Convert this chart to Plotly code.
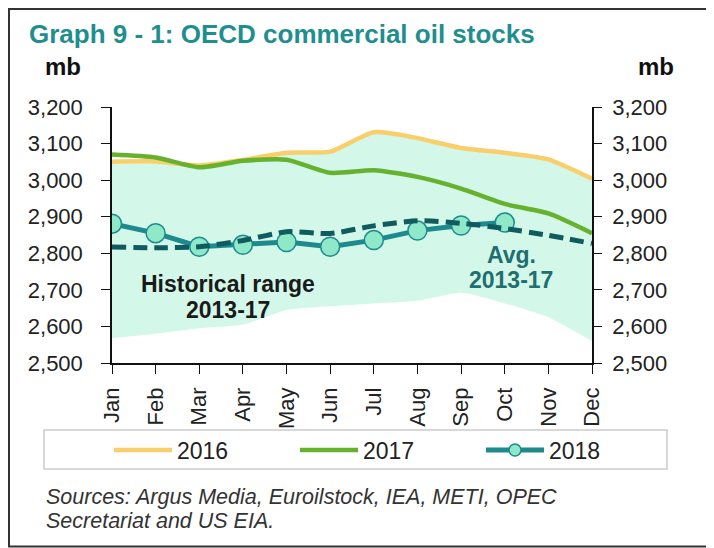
import plotly.graph_objects as go

months = ["Jan", "Feb", "Mar", "Apr", "May", "Jun", "Jul", "Aug", "Sep", "Oct", "Nov", "Dec"]
y2016 = [3050, 3051, 3040, 3055, 3075, 3078, 3131, 3115, 3088, 3075, 3057, 3004]
y2017 = [3070, 3062, 3035, 3053, 3056, 3020, 3027, 3009, 2977, 2935, 2909, 2855]
y2018 = [2881, 2855, 2818, 2823, 2831, 2818, 2836, 2862, 2876, 2884]
avg = [2817, 2815, 2818, 2835, 2859, 2854, 2875, 2889, 2882, 2868, 2849, 2827]
range_low = [2568, 2580, 2595, 2605, 2645, 2655, 2663, 2670, 2692, 2663, 2625, 2560]
range_high = [3044, 3046, 3036, 3052, 3072, 3075, 3128, 3112, 3085, 3072, 3054, 3000]
y_ticks = [2500, 2600, 2700, 2800, 2900, 3000, 3100, 3200]

xs = list(range(len(months)))
FONT = "Liberation Sans, Arial, sans-serif"
TEAL = "#1d8a8e"
MINT = "#d3f7e9"

fig = go.Figure()
fig.add_trace(go.Scatter(x=xs, y=range_low, mode="lines", line=dict(width=0, color=MINT, shape="spline", smoothing=0.6),
                         showlegend=False, hoverinfo="skip"))
fig.add_trace(go.Scatter(x=xs, y=range_high, mode="lines", line=dict(width=0, color=MINT, shape="spline", smoothing=0.6),
                         fill="tonexty", fillcolor=MINT, showlegend=False, hoverinfo="skip"))
fig.add_trace(go.Scatter(x=xs, y=y2016, mode="lines", name="2016", legend="legend",
                         line=dict(color="#f8cf6a", width=4.5, shape="spline", smoothing=0.6)))
fig.add_trace(go.Scatter(x=xs, y=y2017, mode="lines", name="2017", legend="legend2",
                         line=dict(color="#66b22e", width=4.5, shape="spline", smoothing=0.6)))
fig.add_trace(go.Scatter(x=xs[:len(y2018)], y=y2018, mode="lines+markers", name="2018", showlegend=False,
                         line=dict(color=TEAL, width=5),
                         marker=dict(size=19, color="#8fe9c9", line=dict(color=TEAL, width=1.5))))
# legend entry for 2018 with a smaller marker
fig.add_trace(go.Scatter(x=[None], y=[None], mode="lines+markers", name="2018", legend="legend3",
                         line=dict(color=TEAL, width=5),
                         marker=dict(size=12, color="#8fe9c9", line=dict(color=TEAL, width=1.5))))
fig.add_trace(go.Scatter(x=xs, y=avg, mode="lines", showlegend=False,
                         line=dict(color="#0f5b5f", width=5, dash="14px,7px", shape="spline", smoothing=0.6)))
# invisible trace for right axis
fig.add_trace(go.Scatter(x=xs, y=avg, yaxis="y2", mode="lines", line=dict(width=0),
                         showlegend=False, hoverinfo="skip", opacity=0))

W, H = 480.0, 256.0
def px(x):
    return (x - 112) / W
def py(y):
    return (363 - y) / H

axis_font = dict(family=FONT, size=22, color="#222")

def leg(xpage):
    return dict(orientation="h", x=px(xpage), y=py(450), xanchor="left", yanchor="middle",
                itemwidth=58, font=dict(family=FONT, size=23, color="#222"),
                bgcolor="rgba(0,0,0,0)")

fig.update_layout(
    width=706, height=540,
    margin=dict(l=104, r=122, t=99, b=185),
    paper_bgcolor="white", plot_bgcolor="white",
    font=dict(family=FONT),
    xaxis=dict(range=[0, 11], tickvals=xs, ticktext=months, tickangle=-90,
               showgrid=False, zeroline=False, showline=True, linecolor="#111", linewidth=1.5,
               ticks="outside", ticklen=9, tickcolor="#111", tickfont=axis_font, ticklabelstandoff=5),
    yaxis=dict(range=[2500, 3200], tickvals=y_ticks, tickformat=",", showgrid=False, zeroline=False,
               showline=True, linecolor="#111", linewidth=1.5, ticks="outside", ticklen=9,
               tickcolor="#111", tickfont=axis_font, ticklabelstandoff=14),
    yaxis2=dict(range=[2500, 3200], tickvals=y_ticks, tickformat=",", overlaying="y", side="right",
                showgrid=False, zeroline=False, showline=True, linecolor="#111", linewidth=1.5,
                ticks="outside", ticklen=8, tickcolor="#111", tickfont=axis_font, ticklabelstandoff=6),
    legend=leg(109),
    legend2=leg(295),
    legend3=leg(481),
    showlegend=True,
)

shapes = [
    dict(type="rect", xref="paper", yref="paper", x0=px(44), x1=px(667), y0=py(469), y1=py(430),
         line=dict(color="#cccccc", width=1.5), fillcolor="rgba(0,0,0,0)", layer="below"),
    dict(type="rect", xref="paper", yref="paper", x0=px(9), x1=px(713), y0=py(546.5), y1=py(9),
         line=dict(color="#333", width=2), fillcolor="rgba(0,0,0,0)"),
]
fig.update_layout(shapes=shapes)

def ann(text, x, y, size, color, xanchor="center"):
    return dict(text=text, xref="paper", yref="paper", x=x, y=y, xanchor=xanchor, yanchor="middle",
                showarrow=False, align="left" if xanchor == "left" else "center",
                font=dict(family=FONT, size=size, color=color))

annotations = [
    ann("<b>Graph 9 - 1: OECD commercial oil stocks</b>", px(27), py(34), 26, "#1f8f8e", "left"),
    ann("<b>mb</b>", px(63), py(66), 24, "#111"),
    ann("<b>mb</b>", px(656), py(66), 24, "#111"),
    ann("<b>Historical range</b>", px(228), py(284), 23, "#1a1a1a"),
    ann("<b>2013-17</b>", px(228), py(310), 23, "#1a1a1a"),
    ann("<b>Avg.</b>", px(511), py(255), 23, "#1f6e70"),
    ann("<b>2013-17</b>", px(511), py(280), 23, "#1f6e70"),
    ann("<i>Sources: Argus Media, Euroilstock, IEA, METI, OPEC</i>", px(44), py(497), 21.5, "#333", "left"),
    ann("<i>Secretariat and US EIA.</i>", px(44), py(521), 21.5, "#333", "left"),
]
fig.update_layout(annotations=annotations)

fig.write_html("out.html")
